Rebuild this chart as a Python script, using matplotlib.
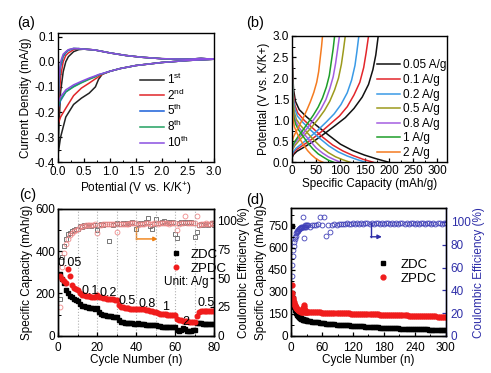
import matplotlib
matplotlib.use('Agg')
import matplotlib.pyplot as plt
from matplotlib.ticker import MultipleLocator

plt.rcParams['font.family'] = ['Liberation Sans', 'DejaVu Sans']
plt.rcParams['mathtext.fontset'] = 'custom'
plt.rcParams['mathtext.rm'] = 'Liberation Sans'
plt.rcParams['mathtext.it'] = 'Liberation Sans:italic'
plt.rcParams['mathtext.default'] = 'regular'
plt.rcParams['axes.unicode_minus'] = False

# ---------------- (a) CV data ----------------
a_labels = ['1$^{st}$', '2$^{nd}$', '5$^{th}$', '8$^{th}$', '10$^{th}$']
a_colors = ['#222222', '#e0262a', '#1a5fd8', '#22a060', '#8a4fe0']
a_down_x = [3.0, 2.5, 2.0, 1.5, 1.2, 1.0, 0.85, 0.78, 0.72, 0.6, 0.45, 0.3, 0.15, 0.05, 0.0]
a_down_y = [
    [0.01, 0.005, -0.003, -0.015, -0.027, -0.038, -0.05, -0.07, -0.10, -0.125, -0.145, -0.17, -0.22, -0.30, -0.37],
    [0.01, 0.005, -0.003, -0.015, -0.027, -0.038, -0.05, -0.06, -0.068, -0.085, -0.105, -0.135, -0.185, -0.22, -0.25],
    [0.01, 0.005, -0.003, -0.015, -0.027, -0.038, -0.048, -0.052, -0.058, -0.068, -0.082, -0.098, -0.12, -0.155, -0.185],
    [0.01, 0.005, -0.003, -0.015, -0.027, -0.038, -0.048, -0.053, -0.06, -0.07, -0.084, -0.1, -0.12, -0.15, -0.175],
    [0.01, 0.005, -0.003, -0.015, -0.027, -0.038, -0.047, -0.051, -0.056, -0.065, -0.078, -0.092, -0.112, -0.14, -0.165],
]
a_up_x = [0.0, 0.02, 0.05, 0.1, 0.15, 0.2, 0.3, 0.4, 0.5, 0.7, 1.0, 1.3, 1.6, 2.0, 2.5, 2.75, 3.0]
a_up_y = [
    [-0.37, -0.25, -0.12, -0.04, 0.0, 0.02, 0.04, 0.048, 0.05, 0.047, 0.035, 0.025, 0.018, 0.012, 0.01, 0.013, 0.01],
    [-0.25, -0.15, -0.06, 0.0, 0.025, 0.035, 0.048, 0.052, 0.05, 0.047, 0.035, 0.025, 0.018, 0.012, 0.01, 0.013, 0.01],
    [-0.185, -0.08, -0.02, 0.02, 0.035, 0.045, 0.052, 0.052, 0.05, 0.047, 0.035, 0.025, 0.018, 0.012, 0.01, 0.013, 0.01],
    [-0.175, -0.07, -0.01, 0.025, 0.038, 0.047, 0.053, 0.052, 0.05, 0.047, 0.035, 0.025, 0.018, 0.012, 0.01, 0.013, 0.01],
    [-0.165, -0.06, 0.0, 0.03, 0.04, 0.048, 0.053, 0.052, 0.05, 0.047, 0.035, 0.025, 0.018, 0.012, 0.01, 0.013, 0.01],
]

# ---------------- (b) GCD data ----------------
b_labels = ['0.05 A/g', '0.1 A/g', '0.2 A/g', '0.5 A/g', '0.8 A/g', '1 A/g', '2 A/g']
b_colors = ['#111111', '#e3262b', '#3a9ae6', '#9c9a1c', '#a45ee0', '#1e9e2a', '#f47b20']
b_dis_cap = [
    [0, 1, 3, 7, 15, 30, 50, 75, 100, 125, 150, 175, 200],
    [0, 1, 3, 6, 12, 25, 42, 63, 84, 105, 126, 147, 168],
    [0, 1, 3, 6, 11, 23, 38, 57, 76, 95, 114, 133, 152],
    [0, 1, 2, 5, 9, 18, 30, 45, 60, 75, 90, 105, 120],
    [0, 1, 2, 4, 8, 15, 25, 38, 50, 63, 75, 88, 100],
    [0, 1, 2, 4, 7, 13, 22, 32, 43, 54, 65, 75, 86],
    [0, 0.5, 1.5, 3, 5, 10, 16, 24, 32, 40, 48, 56, 64],
]
b_dis_v = [
    [3.0, 2.3, 1.75, 1.45, 1.25, 1.08, 0.88, 0.65, 0.43, 0.28, 0.17, 0.08, 0.0],
    [3.0, 2.1, 1.6, 1.35, 1.17, 1.0, 0.82, 0.6, 0.41, 0.27, 0.16, 0.07, 0.0],
    [3.0, 2.0, 1.5, 1.27, 1.1, 0.94, 0.77, 0.57, 0.39, 0.25, 0.15, 0.07, 0.0],
    [3.0, 1.9, 1.45, 1.18, 1.02, 0.87, 0.72, 0.53, 0.36, 0.23, 0.13, 0.06, 0.0],
    [3.0, 1.8, 1.35, 1.12, 0.97, 0.82, 0.67, 0.5, 0.34, 0.22, 0.13, 0.06, 0.0],
    [3.0, 1.7, 1.3, 1.07, 0.92, 0.78, 0.63, 0.47, 0.32, 0.2, 0.12, 0.05, 0.0],
    [3.0, 1.6, 1.2, 0.98, 0.84, 0.7, 0.56, 0.41, 0.28, 0.18, 0.1, 0.04, 0.0],
]
b_chg_cap = [
    [0, 3, 10, 25, 45, 67, 90, 110, 128, 145, 158, 167, 173, 178],
    [0, 3, 9, 22, 40, 60, 80, 98, 114, 128, 140, 148, 153, 158],
    [0, 3, 8, 20, 35, 53, 71, 87, 101, 114, 123, 130, 134, 138],
    [0, 2, 6, 15, 27, 41, 55, 67, 78, 88, 96, 102, 106, 110],
    [0, 2, 5, 13, 24, 36, 49, 60, 70, 78, 85, 90, 94, 98],
    [0, 2, 5, 12, 21, 32, 44, 54, 63, 71, 77, 81, 85, 88],
    [0, 1, 3, 8, 15, 23, 31, 38, 45, 51, 55, 58, 61, 63],
]
b_chg_v = [
    [0.1, 0.18, 0.26, 0.36, 0.5, 0.68, 0.88, 1.06, 1.28, 1.55, 1.85, 2.2, 2.55, 3.0],
    [0.15, 0.22, 0.3, 0.4, 0.54, 0.72, 0.92, 1.1, 1.32, 1.6, 1.9, 2.25, 2.6, 3.0],
    [0.18, 0.25, 0.33, 0.44, 0.58, 0.76, 0.96, 1.15, 1.37, 1.65, 1.95, 2.3, 2.63, 3.0],
    [0.25, 0.32, 0.4, 0.52, 0.66, 0.84, 1.04, 1.23, 1.45, 1.72, 2.0, 2.33, 2.65, 3.0],
    [0.28, 0.36, 0.44, 0.56, 0.7, 0.88, 1.08, 1.27, 1.49, 1.75, 2.03, 2.35, 2.67, 3.0],
    [0.32, 0.4, 0.48, 0.6, 0.74, 0.92, 1.12, 1.31, 1.53, 1.79, 2.06, 2.38, 2.7, 3.0],
    [0.45, 0.52, 0.6, 0.72, 0.87, 1.05, 1.25, 1.44, 1.66, 1.9, 2.15, 2.45, 2.75, 3.0],
]

# ---------------- (c) rate data ----------------
c_cycles = list(range(1, 81))
c_zdc = [290, 268, 250, 215, 200, 190, 182, 175, 170, 165,
         150, 143, 139, 136, 134, 132, 130, 129, 128, 130,
         112, 105, 100, 97, 95, 93, 92, 90, 89, 88,
         72, 67, 64, 62, 60, 59, 58, 58, 57, 57,
         58, 56, 55, 54, 53, 52, 52, 51, 51, 50,
         46, 44, 43, 42, 41, 41, 40, 40, 39, 39,
         25, 22, 28, 36, 30, 22, 20, 22, 25, 28,
         62, 60, 58, 57, 56, 56, 55, 55, 54, 54]
c_zpdc = [282, 270, 258, 250, 315, 285, 240, 228, 220, 215,
          200, 195, 192, 190, 188, 186, 185, 184, 183, 192,
          185, 182, 180, 178, 176, 175, 173, 172, 170, 168,
          145, 138, 134, 131, 130, 129, 128, 127, 126, 125,
          128, 127, 126, 125, 124, 120, 116, 115, 114, 114,
          106, 104, 103, 102, 101, 100, 100, 99, 99, 98,
          80, 75, 72, 70, 69, 68, 67, 66, 65, 65,
          95, 112, 115, 116, 116, 116, 116, 116, 116, 116]
c_ce_zdc = [32, 68, 78, 84, 88, 89, 91, 92, 93, 93,
            95, 94, 96, 95, 96, 96, 95, 96, 96, 92,
            96, 97, 96, 97, 97, 82, 97, 96, 97, 98,
            97, 97, 98, 97, 98, 97, 98, 99, 98, 93,
            97, 98, 97, 98, 99, 102, 95, 93, 97, 101,
            98, 98, 99, 100, 98, 98, 99, 98, 99, 88,
            85, 98, 99, 98, 99, 98, 99, 99, 98, 86,
            90, 96, 97, 96, 97, 97, 96, 97, 98, 96]
c_ce_zpdc = [25, 60, 72, 80, 84, 87, 89, 91, 92, 93,
             94, 95, 95, 96, 96, 96, 96, 96, 97, 89,
             96, 96, 97, 97, 97, 97, 97, 97, 97, 90,
             97, 97, 97, 97, 97, 97, 98, 98, 98, 98,
             96, 97, 97, 97, 98, 98, 97, 97, 98, 98,
             97, 98, 98, 98, 98, 98, 97, 98, 98, 98,
             92, 97, 98, 98, 104, 98, 98, 98, 98, 98,
             104, 96, 97, 97, 97, 98, 97, 97, 98, 97]
c_rate_edges = [10, 20, 30, 40, 50, 60, 70]
c_rate_labels = ['0.05', '0.1', '0.2', '0.5', '0.8', '1', '2', '0.5']
c_label_x = [6, 16.5, 25.5, 35.3, 45.6, 55.2, 65.3, 76]
c_label_y = [345, 214, 203, 163, 151, 137, 63, 156]
c_arrow = [(40, 94), (40, 84), (51, 84)]

# ---------------- (d) long cycling data ----------------
d_cycles = list(range(1, 31)) + list(range(32, 301, 4))
d_zdc = [750, 290, 260, 235, 215, 200, 190, 180, 170, 160,
         152, 145, 140, 135, 131, 128, 125, 122, 120, 118,
         116, 114, 112, 111, 110, 109, 108, 107, 106, 105,
         102, 100, 98, 96, 94, 92, 90, 88, 86, 84, 82, 81, 80, 79, 78, 77, 76, 75,
         74, 73, 72, 71, 70, 69, 68, 67, 66, 65, 64, 63, 62, 61, 60, 59, 58, 57, 56, 56, 55, 54, 54, 53, 53,
         52, 52, 51, 51, 50, 50, 49, 49, 48, 48, 47, 47, 46, 46, 45, 45, 44, 44, 43, 43, 42, 42, 41, 41, 40]
d_zpdc = [345, 290, 262, 245, 232, 220, 210, 202, 195, 190,
          186, 182, 179, 176, 174, 172, 170, 168, 167, 166,
          165, 166, 190, 210, 200, 180, 166, 165, 165, 164,
          164, 163, 163, 162, 162, 161, 161, 160, 160, 159, 159, 158, 158, 157, 157, 156, 156, 155,
          155, 154, 154, 153, 153, 152, 152, 151, 151, 150, 150, 149, 149, 148, 148, 147, 147, 146, 146, 145, 145, 144, 144, 143, 143,
          142, 142, 141, 141, 140, 140, 139, 139, 138, 138, 137, 137, 136, 136, 135, 135, 134, 134, 133, 133, 132, 132, 131, 131, 130]
d_ce = [53, 62, 70, 75, 79, 82, 85, 87, 88, 90,
        91, 92, 92, 93, 94, 94, 95, 95, 96, 95,
        96, 104, 96, 96, 86, 96, 97, 96, 97, 97,
        97, 96, 97, 97, 97, 98, 104, 97, 104, 88, 97, 91, 97, 98, 97, 98, 98, 98,
        98, 99, 98, 98, 99, 98, 99, 98, 99, 98, 99, 99, 98, 99, 98, 99, 99, 98, 99, 98, 99, 99, 98, 99, 98,
        99, 98, 99, 99, 98, 99, 98, 99, 99, 98, 99, 98, 99, 99, 98, 99, 99, 98, 99, 98, 99, 99, 98, 99, 99]
d_arrow = [(154, 99), (154, 87), (176, 87)]

TICK_FS = 8.5
LAB_FS = 8.5
BLUE = '#2e2ea8'


def style(ax):
    ax.tick_params(which='major', direction='in', length=3, width=0.9, labelsize=TICK_FS, pad=2)
    ax.tick_params(which='minor', direction='in', length=1.8, width=0.7)
    for s in ax.spines.values():
        s.set_linewidth(1.0)


fig = plt.figure(figsize=(4.91, 3.73), dpi=100)

# ---- (a)
ax = fig.add_axes([0.1181, 0.5649, 0.3177, 0.3458])
for i in range(len(a_labels)):
    xs = a_down_x + a_up_x
    ys = a_down_y[i] + a_up_y[i]
    ax.plot(xs, ys, color=a_colors[i], lw=1.1, label=a_labels[i])
ax.set_xlim(0, 3.0)
ax.set_ylim(-0.4, 0.113)
ax.xaxis.set_major_locator(MultipleLocator(0.5))
ax.xaxis.set_minor_locator(MultipleLocator(0.25))
ax.yaxis.set_major_locator(MultipleLocator(0.1))
ax.yaxis.set_minor_locator(MultipleLocator(0.05))
ax.xaxis.set_major_formatter(plt.FormatStrFormatter('%.1f'))
ax.yaxis.set_major_formatter(plt.FormatStrFormatter('%.1f'))
style(ax)
ax.tick_params(axis='x', which='major', pad=3)
ax.set_xlabel('Potential (V vs. K/K$^{+}$)', fontsize=LAB_FS, labelpad=1)
ax.set_ylabel('Current Density (mA/g)', fontsize=LAB_FS, labelpad=2)
ax.legend(loc='center left', bbox_to_anchor=(0.48, 0.40), frameon=False, fontsize=TICK_FS,
          handlelength=2.0, handletextpad=0.25, labelspacing=0.05, borderpad=0.1)

# ---- (b)
ax = fig.add_axes([0.5947, 0.5649, 0.3157, 0.3386])
for i in range(len(b_labels)):
    ax.plot(b_dis_cap[i], b_dis_v[i], color=b_colors[i], lw=1.1, label=b_labels[i])
    ax.plot(b_chg_cap[i], b_chg_v[i], color=b_colors[i], lw=1.1)
ax.set_xlim(0, 320)
ax.set_ylim(0, 3.0)
ax.xaxis.set_major_locator(MultipleLocator(50))
ax.xaxis.set_minor_locator(MultipleLocator(25))
ax.yaxis.set_major_locator(MultipleLocator(0.5))
ax.yaxis.set_minor_locator(MultipleLocator(0.25))
ax.yaxis.set_major_formatter(plt.FormatStrFormatter('%.1f'))
style(ax)
ax.set_xlabel('Specific Capacity (mAh/g)', fontsize=LAB_FS, labelpad=1)
ax.set_ylabel('Potential (V vs. K/K+)', fontsize=LAB_FS, labelpad=2)
ax.legend(loc='center left', bbox_to_anchor=(0.50, 0.42), frameon=False, fontsize=TICK_FS,
          handlelength=2.0, handletextpad=0.25, labelspacing=0.22, borderpad=0.1)

# ---- (c)
ax = fig.add_axes([0.1187, 0.1, 0.3177, 0.3397])
ax2 = ax.twinx()
for e in c_rate_edges:
    ax.axvline(e, color='#b0b0b0', ls=':', lw=0.8, zorder=0)
ax2.plot(c_cycles, c_ce_zdc, ls='none', marker='s', ms=3.3, mfc='none', mec='#606060', mew=0.6)
ax2.plot(c_cycles, c_ce_zpdc, ls='none', marker='o', ms=3.5, mfc='none', mec='#f08a8a', mew=0.6)
ax.plot(c_cycles, c_zdc, ls='none', marker='s', ms=3.0, color='black', label='ZDC')
ax.plot(c_cycles, c_zpdc, ls='none', marker='o', ms=3.3, color='#f01c1c', label='ZPDC')
ax.set_zorder(ax2.get_zorder() + 1)
ax.patch.set_visible(False)
for t, x, y in zip(c_rate_labels, c_label_x, c_label_y):
    ax.text(x, y, t, fontsize=TICK_FS + 0.5, ha='center', va='center')
ax2.plot([c_arrow[0][0], c_arrow[1][0]], [c_arrow[0][1], c_arrow[1][1]], color='#f07f10', lw=1.0)
ax2.annotate('', xy=c_arrow[2], xytext=c_arrow[1],
             arrowprops=dict(arrowstyle='-|>', color='#f07f10', lw=1.0, mutation_scale=6,
                             shrinkA=0, shrinkB=0))
ax.set_xlim(0, 80)
ax.set_ylim(0, 600)
ax2.set_ylim(0, 110)
ax.xaxis.set_major_locator(MultipleLocator(20))
ax.xaxis.set_minor_locator(MultipleLocator(10))
ax.yaxis.set_major_locator(MultipleLocator(200))
ax.yaxis.set_minor_locator(MultipleLocator(100))
ax2.yaxis.set_major_locator(MultipleLocator(25))
style(ax)
style(ax2)
ax.tick_params(axis='x', which='major', pad=4.2)
ax.set_xlabel('Cycle Number (n)', fontsize=LAB_FS, labelpad=0)
ax.set_ylabel('Specific Capacity (mAh/g)', fontsize=LAB_FS, labelpad=2)
ax2.set_ylabel('Coulombic Efficiency (%)', fontsize=LAB_FS, labelpad=0.5)
ax.legend(loc='center left', bbox_to_anchor=(0.66, 0.585), frameon=False, fontsize=TICK_FS + 1,
          handlelength=1.0, handletextpad=0.6, labelspacing=0.15, borderpad=0.1)
ax.text(0.68, 0.424, 'Unit: A/g', transform=ax.transAxes, fontsize=TICK_FS, va='center', ha='left')

# ---- (d)
ax = fig.add_axes([0.592, 0.0992, 0.3169, 0.3424])
ax2 = ax.twinx()
ax2.plot(d_cycles, d_ce, ls='none', marker='o', ms=3.5, mfc='none', mec='#4040b8', mew=0.6)
ax.plot(d_cycles, d_zdc, ls='none', marker='s', ms=3.0, color='black', label='ZDC')
ax.plot(d_cycles, d_zpdc, ls='none', marker='o', ms=3.5, color='#f01c1c', label='ZPDC')
ax.set_zorder(ax2.get_zorder() + 1)
ax.patch.set_visible(False)
ax2.plot([d_arrow[0][0], d_arrow[1][0]], [d_arrow[0][1], d_arrow[1][1]], color=BLUE, lw=1.0)
ax2.annotate('', xy=d_arrow[2], xytext=d_arrow[1],
             arrowprops=dict(arrowstyle='-|>', color=BLUE, lw=1.0, mutation_scale=6,
                             shrinkA=0, shrinkB=0))
ax.set_xlim(-1, 301)
ax.set_ylim(0, 870)
ax2.set_ylim(0, 112)
ax.xaxis.set_major_locator(MultipleLocator(60))
ax.xaxis.set_minor_locator(MultipleLocator(30))
ax.yaxis.set_major_locator(MultipleLocator(150))
ax.yaxis.set_minor_locator(MultipleLocator(75))
ax2.yaxis.set_major_locator(MultipleLocator(20))
style(ax)
style(ax2)
ax.tick_params(axis='x', which='major', pad=4.5)
ax2.tick_params(axis='y', colors=BLUE, labelcolor=BLUE, pad=3.2)
ax2.spines['right'].set_color(BLUE)
ax.set_xlabel('Cycle Number (n)', fontsize=LAB_FS, labelpad=0)
ax.set_ylabel('Specific Capacity (mAh/g)', fontsize=LAB_FS, labelpad=1)
ax2.set_ylabel('Coulombic Efficiency (%)', fontsize=LAB_FS, labelpad=1.5, color=BLUE)
ax.legend(loc='center left', bbox_to_anchor=(0.5, 0.505), frameon=False, fontsize=TICK_FS + 1,
          handlelength=1.0, handletextpad=0.8, labelspacing=0.15, borderpad=0.1)

# panel letters
fig.text(17 / 491, 1 - 30 / 373, '(a)', fontsize=10.5, va='bottom', ha='left')
fig.text(246 / 491, 1 - 30 / 373, '(b)', fontsize=10.5, va='bottom', ha='left')
fig.text(19 / 491, 1 - 202 / 373, '(c)', fontsize=10.5, va='bottom', ha='left')
fig.text(246 / 491, 1 - 207 / 373, '(d)', fontsize=10.5, va='bottom', ha='left')

fig.savefig('out.png', dpi=100)
